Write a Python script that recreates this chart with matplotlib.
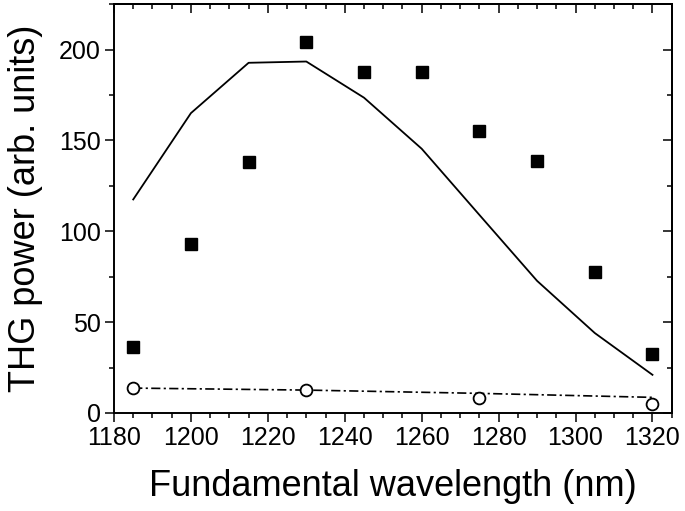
import matplotlib
matplotlib.use("Agg")
import matplotlib.pyplot as plt
from matplotlib.ticker import MultipleLocator

plt.rcParams['font.family'] = ['Liberation Sans', 'DejaVu Sans']

# measured THG (squares)
wl = [1185, 1200, 1215, 1230, 1245, 1260, 1275, 1290, 1305, 1320]
thg = [36.5, 93, 138, 204, 187.5, 187.5, 155, 138.5, 77.5, 32.5]
# calculated curve
calc = [117.5, 165, 192.7, 193.4, 173.5, 145.4, 109, 72.7, 44, 21]
# reference sample (circles) and its line
wl_ref = [1185, 1230, 1275, 1320]
ref = [13.5, 12.5, 8.1, 4.9]
ref_line = [13.7, 12.6, 10.8, 8.6]

fig = plt.figure(figsize=(6.85, 5.11), dpi=100)
ax = fig.add_axes([0.1664, 0.1918, 0.9806 - 0.1664, 0.992 - 0.1918])

ax.plot(wl, calc, color='black', lw=1.3)
ax.plot(wl, thg, 's', color='black', ms=8.5, mec='black')
ax.plot(wl_ref, ref_line, color='black', lw=1.2, dashes=(5.5, 2, 1.3, 2))
ax.plot(wl_ref, ref, 'o', mfc='white', mec='black', ms=8.5, mew=1.3)

ax.set_xlim(1180, 1325)
ax.set_ylim(0, 225)
ax.xaxis.set_major_locator(MultipleLocator(20))
ax.xaxis.set_minor_locator(MultipleLocator(5))
ax.yaxis.set_major_locator(MultipleLocator(50))
ax.yaxis.set_minor_locator(MultipleLocator(25))

for s in ax.spines.values():
    s.set_linewidth(1.4)
ax.tick_params(which='major', direction='out', length=6.3, width=1.1, labelsize=18, pad=3)
ax.tick_params(which='minor', direction='out', length=3.6, width=1.1)

top = ax.secondary_xaxis('top')
top.xaxis.set_major_locator(MultipleLocator(20))
top.xaxis.set_minor_locator(MultipleLocator(5))
top.tick_params(which='major', direction='in', length=6.3, width=1.1, labeltop=False)
top.tick_params(which='minor', direction='in', length=3.6, width=1.1)
top.spines['top'].set_linewidth(1.4)

right = ax.secondary_yaxis('right')
right.yaxis.set_major_locator(MultipleLocator(50))
right.yaxis.set_minor_locator(MultipleLocator(25))
right.tick_params(which='major', direction='in', length=6.3, width=1.1, labelright=False)
right.tick_params(which='minor', direction='in', length=3.6, width=1.1)
right.spines['right'].set_linewidth(1.4)

ax.set_xlabel('Fundamental wavelength (nm)', fontsize=26, labelpad=14)
ax.set_ylabel('THG power (arb. units)', fontsize=26, labelpad=12)

fig.savefig('out.png', dpi=100)
